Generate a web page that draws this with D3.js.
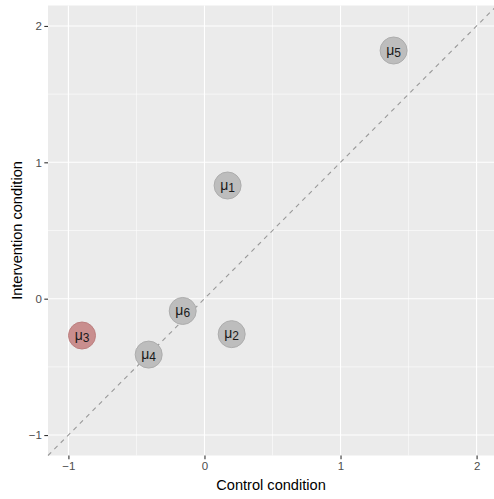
<!DOCTYPE html>
<html lang="en">
<head>
  <meta charset="UTF-8">
  <title>Control vs intervention</title>
  <script src="https://d3js.org/d3.v7.min.js"></script>
  <style>
    body { margin: 0; background: #fff; }
    svg { display: block; font-family: "Liberation Sans", Arial, sans-serif; }
  </style>
</head>
<body>
<div id="chart"></div>
<script>
// Data
const labels = ["1", "2", "3", "4", "5", "6"];
const controlValues = [0.17, 0.20, -0.90, -0.41, 1.39, -0.16];
const interventionValues = [0.83, -0.26, -0.27, -0.41, 1.82, -0.09];
const highlighted = [false, false, true, false, false, false];
const majorTicks = [-1, 0, 1, 2];
const minorTicks = [-0.5, 0.5, 1.5];

const width = 494, height = 499;
const panel = { left: 48, top: 5.5, right: 497, bottom: 455.5 };
const domain = [-1.15, 2.15];

const x = d3.scaleLinear().domain(domain).range([panel.left, panel.right]);
const y = d3.scaleLinear().domain(domain).range([panel.bottom, panel.top]);

const svg = d3.select("#chart").append("svg")
  .attr("width", width)
  .attr("height", height);

// Panel background
svg.append("rect")
  .attr("x", panel.left).attr("y", panel.top)
  .attr("width", panel.right - panel.left)
  .attr("height", panel.bottom - panel.top)
  .attr("fill", "#ebebeb");

// Grid lines
const grid = svg.append("g");
grid.selectAll(".vminor").data(minorTicks).enter().append("line")
  .attr("x1", d => x(d)).attr("x2", d => x(d))
  .attr("y1", panel.top).attr("y2", panel.bottom)
  .attr("stroke", "#fff").attr("stroke-width", 0.55);
grid.selectAll(".hminor").data(minorTicks).enter().append("line")
  .attr("y1", d => y(d)).attr("y2", d => y(d))
  .attr("x1", panel.left).attr("x2", panel.right)
  .attr("stroke", "#fff").attr("stroke-width", 0.55);
grid.selectAll(".vmajor").data(majorTicks).enter().append("line")
  .attr("x1", d => x(d)).attr("x2", d => x(d))
  .attr("y1", panel.top).attr("y2", panel.bottom)
  .attr("stroke", "#fff").attr("stroke-width", 1.1);
grid.selectAll(".hmajor").data(majorTicks).enter().append("line")
  .attr("y1", d => y(d)).attr("y2", d => y(d))
  .attr("x1", panel.left).attr("x2", panel.right)
  .attr("stroke", "#fff").attr("stroke-width", 1.1);

// Identity line
svg.append("line")
  .attr("x1", x(domain[0])).attr("y1", y(domain[0]))
  .attr("x2", x(domain[1])).attr("y2", y(domain[1]))
  .attr("stroke", "#999")
  .attr("stroke-width", 1.1)
  .attr("stroke-dasharray", "4.5,4.5");

// Axes
const xAxis = svg.append("g")
  .attr("transform", `translate(0,${panel.bottom})`)
  .call(d3.axisBottom(x).tickValues(majorTicks).tickSize(3.7).tickPadding(2.5).tickFormat(d3.format("d")));
const yAxis = svg.append("g")
  .attr("transform", `translate(${panel.left},0)`)
  .call(d3.axisLeft(y).tickValues(majorTicks).tickSize(3.7).tickPadding(2.5).tickFormat(d3.format("d")));
[xAxis, yAxis].forEach(a => {
  a.select(".domain").remove();
  a.selectAll(".tick line").attr("stroke", "#333").attr("stroke-width", 1.1);
  a.selectAll(".tick text")
    .attr("fill", "#4d4d4d")
    .style("font-size", "11.5px")
    .style("font-family", "Liberation Sans, Arial, sans-serif");
});

// Points
const points = labels.map((lab, i) => ({
  lab, cx: controlValues[i], iv: interventionValues[i], hi: highlighted[i]
}));

const nodes = svg.append("g").selectAll("g").data(points).enter().append("g")
  .attr("transform", d => `translate(${x(d.cx)},${y(d.iv)})`);

nodes.append("circle")
  .attr("r", 13.5)
  .attr("fill", d => d.hi ? "#c98e8e" : "#bdbdbd")
  .attr("stroke", d => d.hi ? "#bc7f7f" : "#adadad")
  .attr("stroke-width", 1);

const txt = nodes.append("text")
  .attr("text-anchor", "middle")
  .attr("y", 4)
  .attr("fill", "#1a1a1a")
  .style("font-size", "14px");
txt.append("tspan").text("μ");
txt.append("tspan").attr("dy", 2).style("font-size", "12px").text(d => d.lab);

// Axis titles
svg.append("text")
  .attr("x", (panel.left + panel.right) / 2 - 1.5)
  .attr("y", 489.5)
  .attr("text-anchor", "middle")
  .attr("fill", "#000")
  .style("font-size", "14.6px")
  .text("Control condition");

svg.append("text")
  .attr("transform", `translate(22,${(panel.top + panel.bottom) / 2}) rotate(-90)`)
  .attr("text-anchor", "middle")
  .attr("fill", "#000")
  .style("font-size", "14.6px")
  .text("Intervention condition");
</script>
</body>
</html>
